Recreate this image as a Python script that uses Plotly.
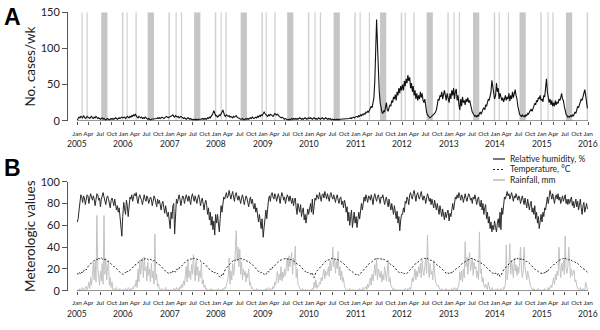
import pandas as pd
import plotly.graph_objects as go

years = list(range(2005, 2016))

# Weekly scarlet-fever cases (52 weeks per year, 2005-2015)
cases = [
    # 2005
    1,3,5,4,6,5,4,7,5,3, 4,6,5,4,3,5,6,4,3,5, 4,6,5,3,4,3,2,3,4,2, 3,2,1,2,3,2,1,2,3,2, 3,2,3,4,3,2,3,4,3,4, 5,4,
    # 2006
    4,5,3,4,6,5,4,6,5,7, 6,8,7,9,6,5,4,6,5,4, 5,3,4,3,5,4,3,2,3,2, 1,2,2,3,2,3,2,3,4,3, 4,3,4,5,4,3,4,5,6,5, 4,5,
    # 2007
    5,6,7,8,6,5,7,6,5,6, 4,5,6,5,4,3,4,3,2,3, 4,3,2,3,2,1,2,1,2,1, 2,1,2,2,1,2,3,2,3,2, 3,2,4,3,5,4,6,8,10,14, 9,7,
    # 2008
    7,5,6,8,7,9,12,15,10,7, 6,8,7,6,7,5,6,5,4,6, 5,6,7,5,4,3,3,2,2,3, 2,1,2,3,2,3,2,3,4,3, 5,4,3,4,5,4,6,5,7,6, 8,7,
    # 2009
    9,12,10,8,7,6,8,7,9,8, 7,6,8,10,9,8,9,7,6,5, 4,5,4,3,2,3,2,2,1,2, 1,2,3,2,3,2,3,2,3,2, 3,4,3,2,3,2,3,4,3,2, 3,4,
    # 2010
    3,4,3,2,3,4,3,2,3,2, 4,3,2,3,4,3,2,3,4,3, 2,3,2,3,2,1,2,1,2,1, 2,1,2,1,2,2,3,2,3,2, 3,2,3,2,3,3,4,3,4,5, 4,5,
    # 2011
    5,6,5,7,6, 8,7,9,8, 10,9,12,11, 13,12,15,18, 20,18,27,32,55,100,140,
    105,65,40,25,15,12,10,14,12,18, 25,15,13,18,22,20,28,25,33,30, 36,28,40,35,45,38,48,42,
    # 2012
    50,42,55,48, 58,52,63,55, 60,45,52,40,48, 35,42,30,38, 28,35,30,40, 32,38,28,25,30,
    18,12,8,6, 5,4,5,6, 7,9,10,12,15, 22,30,28,35, 33,40,30,38, 42,35,28,38,32,
    # 2013
    25,38,30,42, 35,45,30,40, 44,28,35,22,15, 30,20,33,25, 28,22,30,26, 32,25,28,22,18,
    12,10,8,6, 7,5,8,6, 10,12,9,14,16, 18,15,22,20, 25,30,28,35, 40,56,45,38,30,
    # 2014
    35,52,40,45, 30,38,33,28, 32,26,30,35,28, 33,30,38,27, 35,30,40,32, 38,43,35,30,20,
    12,9,7,6, 8,6,7,5, 8,7,10,9,12, 14,16,13,18, 20,24,22,28, 26,32,30,35,28,
    # 2015
    30,26,35,33, 45,58,40,32, 25,30,22,28,20, 25,20,28,22, 26,24,30,28, 32,38,30,28,20,
    12,9,7,5, 6,5,7,6, 8,6,9,12,10, 15,20,18,22, 25,30,28,33, 38,43,35,25,17,
]

# Weekly relative humidity, %
humidity = [
    63,66,74,84,88,86,81,87,85,79, 84,88,87,80,85,89,86,83,87,84, 78,86,89,88,83,85,77,84,88,90, 86,82,79,85,87,84,80,76,83,85, 82,78,84,80,74,78,72,76,69,62, 50,68,
    81,75,70,83,78,68,80,86,84,88, 82,85,89,87,90,84,80,86,88,85, 83,79,86,88,84,82,87,85,80,83, 86,84,78,82,87,85,81,77,84,80, 83,79,74,80,82,76,71,78,74,68, 72,64,
    57,72,66,78,80,52,68,84,80,86, 88,84,78,83,87,86,80,84,88,85, 82,87,84,79,86,89,85,82,87,84, 80,85,88,84,78,82,85,80,74,80, 83,78,70,76,65,72,60,68,56,64, 51,70,
    62,70,58,54,66,78,72,80,86,84, 88,90,85,87,92,89,84,88,91,86, 82,88,90,86,83,87,84,80,85,88, 84,79,83,87,85,80,77,83,86,80, 84,78,75,80,72,76,68,63,70,64, 57,66,
    49,58,70,74,66,80,84,87,82,88, 90,86,84,89,87,82,86,89,85,80, 86,90,87,83,86,80,84,88,86,82, 87,84,80,85,78,83,85,76,70,80, 77,72,79,68,73,76,65,70,62,68, 75,70,
    74,80,72,84,70,78,85,83,88,86, 84,90,87,82,88,89,85,91,88,84, 89,86,82,88,90,86,84,88,85,81, 86,88,83,80,85,86,79,82,76,83, 80,72,77,64,72,60,68,74,58,66, 72,62,
    68,58,64,72,66,76,80,74,84,86, 82,88,85,81,87,86,83,88,84,79, 86,89,85,82,86,88,84,80,86,85, 88,84,79,83,86,81,77,84,80,74, 80,76,70,78,72,66,73,62,68,55, 64,70,
    70,76,72,82,80,86,84,79,88,90, 86,84,89,92,87,82,88,90,86,84, 88,91,86,83,87,85,80,86,89,86, 82,85,79,84,80,76,83,78,74,80, 76,70,78,74,68,75,70,65,72,67, 71,74,
    64,71,68,76,80,74,82,86,84,88, 85,90,87,83,88,86,81,87,89,85, 82,86,89,87,83,85,80,86,84,88, 84,79,84,86,80,77,83,74,80,70, 76,79,66,72,62,68,57,63,54,60, 56,64,
    58,54,62,66,58,72,56,76,70,82, 86,84,88,91,87,89,84,88,90,86, 82,87,85,89,86,83,87,85,80,84, 87,83,79,85,80,76,84,78,74,80, 82,72,76,70,78,66,72,62,68,57, 64,70,
    63,72,68,76,74,82,86,80,88,92, 88,84,89,85,80,86,88,84,89,83, 86,80,84,87,82,85,88,80,84,79, 84,80,83,86,78,82,76,81,84,77, 82,74,80,84,76,70,78,81,72,76, 80,75,
]

# Weekly mean temperature, degrees C
temperature = [
    16,15,17,16,15,17,16,18,19,20, 19,21,22,23,24,24,26,27,27,28, 28,29,29,28,30,29,29,30,29,29, 28,29,28,28,27,27,26,26,25,24, 23,22,22,21,20,19,18,18,17,16, 16,15,
    15,16,17,16,18,17,18,19,19,20, 21,22,22,24,24,25,26,27,27,28, 28,28,29,29,29,30,29,29,28,29, 29,28,28,27,28,27,26,26,25,24, 24,23,22,21,20,19,19,18,17,17, 16,17,
    16,17,16,18,17,18,17,19,20,19, 21,22,22,23,24,25,26,26,27,28, 28,28,29,29,29,30,29,30,29,29, 29,28,28,28,27,27,26,25,25,24, 23,23,22,21,20,19,18,18,17,16, 17,16,
    15,16,14,13,12,13,15,14,17,18, 20,21,22,23,24,25,26,26,27,28, 27,28,29,28,29,29,29,30,29,29, 28,29,28,28,27,27,26,26,25,25, 24,23,22,21,20,19,18,17,17,16, 17,16,
    16,15,16,15,16,18,17,19,20,19, 21,22,23,23,24,25,26,27,27,28, 28,29,29,29,29,30,30,29,29,29, 28,29,28,28,27,27,26,25,25,24, 24,23,22,21,20,19,18,17,17,16, 17,16,
    16,15,17,16,14,12,15,17,18,19, 20,21,22,23,24,25,25,26,27,28, 28,28,29,29,29,30,29,29,29,29, 28,29,28,28,27,27,26,26,25,24, 24,23,22,21,20,19,18,18,17,16, 16,15,
    15,14,15,14,15,16,17,18,18,19, 20,21,22,23,24,25,26,26,27,28, 28,29,29,29,30,29,30,29,29,29, 28,29,28,28,27,27,26,25,25,24, 24,23,22,21,20,19,18,18,17,16, 16,17,
    16,15,16,15,15,16,17,18,19,20, 20,21,22,23,24,25,26,26,27,28, 28,29,29,29,29,30,29,30,29,29, 28,28,28,27,27,26,26,25,24,24, 23,22,22,21,20,19,18,17,17,16, 17,16,
    16,17,16,18,17,18,19,20,20,21, 21,22,22,23,24,25,26,26,27,28, 28,28,29,29,29,30,29,29,29,28, 28,28,27,27,26,26,25,25,24,24, 23,22,22,21,20,19,18,18,17,16, 15,16,
    16,15,14,16,15,13,14,16,18,19, 20,21,22,23,24,25,26,26,27,28, 28,29,29,29,30,29,30,29,29,29, 28,29,28,28,27,27,26,26,25,24, 24,23,22,21,20,19,19,18,17,17, 16,16,
    16,17,16,17,16,18,17,19,20,20, 21,22,23,24,24,25,26,27,27,28, 28,29,29,29,30,29,30,29,29,29, 28,29,28,28,27,27,27,26,26,25, 25,24,23,23,22,21,20,20,19,18, 18,17,
]

# Weekly rainfall, mm
rainfall = [
    0,1,0,2,1,0,3,1,0,2, 4,1,3,8,2,12,5,15,26,10, 28,8,69,20,12,5,18,9,25,6, 69,15,30,10,22,28,5,12,3,8, 1,2,0,1,3,0,1,0,2,1, 0,1,
    1,0,2,1,0,3,1,0,2,1, 3,2,5,4,10,3,20,8,28,15, 24,30,12,31,18,22,9,26,14,20, 8,25,12,18,6,52,10,15,4,6, 2,1,0,2,1,0,1,3,0,1, 0,1,
    0,1,0,0,2,1,0,3,1,2, 0,4,2,6,3,9,5,14,22,8, 27,12,18,10,24,15,33,20,9,28, 14,22,8,18,12,25,6,10,3,5, 1,2,0,1,0,1,2,0,1,0, 1,0,
    1,0,2,1,0,1,0,2,1,3, 2,5,8,12,30,6,18,10,25,14, 20,35,55,28,40,22,38,15,26,10, 20,14,18,8,16,12,20,5,8,2, 3,1,0,1,0,2,0,1,0,1, 0,0,
    0,1,0,2,0,1,3,1,0,2, 1,4,2,8,5,12,18,7,15,10, 22,9,17,12,20,14,25,30,18,32, 22,28,35,15,30,24,41,12,20,6, 4,2,1,0,2,1,0,1,0,0, 1,0,
    0,1,0,2,1,8,3,10,2,5, 4,8,6,12,9,15,20,11,18,14, 16,22,13,28,18,25,40,22,30,16, 27,20,36,14,22,10,18,8,12,4, 2,1,0,1,0,2,1,0,1,0, 0,1,
    0,0,1,0,2,0,1,0,3,1, 2,4,1,6,3,8,12,5,15,9, 18,24,14,30,10,20,16,12,18,8, 15,10,22,14,9,18,28,8,12,5, 3,1,0,2,0,1,0,0,1,0, 1,0,
    0,1,0,2,1,0,2,1,3,1, 5,12,8,15,20,10,18,13,22,16, 25,12,28,18,14,22,30,16,51,20, 12,25,15,18,10,28,14,8,6,4, 5,2,1,0,2,1,0,1,0,2, 0,1,
    0,1,0,2,0,1,3,1,2,0, 4,6,17,10,18,8,20,12,45,22, 31,15,28,35,18,24,30,14,26,20, 22,12,18,10,54,16,20,8,12,5, 3,6,2,1,8,2,0,1,3,0, 1,0,
    1,0,2,0,1,0,2,1,0,3, 2,6,42,10,18,25,43,15,28,20, 12,30,18,24,14,22,16,26,40,20, 12,18,40,22,15,10,18,12,8,5, 3,1,0,2,1,0,1,0,2,0, 1,0,
    0,1,0,2,1,0,1,3,0,2, 5,3,8,12,6,15,10,18,14,40, 22,12,25,18,28,15,50,20,16,22, 40,18,12,20,14,16,19,8,10,4, 2,1,0,3,1,0,2,1,0,8, 2,1,
]

# School holidays (Hong Kong)
lunar_new_year = ["2005-02-09", "2006-01-29", "2007-02-18", "2008-02-07", "2009-01-26", "2010-02-14",
                  "2011-02-03", "2012-01-23", "2013-02-10", "2014-01-31", "2015-02-19"]
easter = ["2005-03-27", "2006-04-16", "2007-04-08", "2008-03-23", "2009-04-12", "2010-04-04",
          "2011-04-24", "2012-04-08", "2013-03-31", "2014-04-20", "2015-04-05"]

month_names = ["Jan", "Apr", "Jul", "Oct"]
year_labels = [str(y) for y in range(2005, 2017)]

# ---- derived x positions ----
def weekly_dates(n):
    out = []
    for i in range(n):
        y = years[i // 52]
        out.append(pd.Timestamp(y, 1, 3) + pd.Timedelta(days=7 * (i % 52)))
    return out

dates_c = weekly_dates(len(cases))
dates_h = weekly_dates(len(humidity))
dates_t = weekly_dates(len(temperature))
dates_r = weekly_dates(len(rainfall))

tickvals = [f"{y}-{m:02d}-01" for y in years for m in (1, 4, 7, 10)] + ["2016-01-01"]
ticktext = [month_names[k % 4] for k in range(len(tickvals))]

FONT = "Lato"
INK = "#222222"
AX = "#555555"
HOL = "#c6c6c6"
THIN = "#cfcfcf"

fig = go.Figure()

fig.add_trace(go.Scatter(x=dates_c, y=cases, mode="lines", name="Cases",
                         line=dict(color="#111111", width=1.1), showlegend=False,
                         xaxis="x", yaxis="y"))
fig.add_trace(go.Scatter(x=dates_r, y=rainfall, mode="lines", name="Rainfall, mm",
                         line=dict(color="#c2c2c2", width=1), showlegend=False,
                         xaxis="x2", yaxis="y2"))
fig.add_trace(go.Scatter(x=dates_t, y=temperature, mode="lines", name="Temperature, °C",
                         line=dict(color="#222222", width=1, dash="2px,2px"), showlegend=False,
                         xaxis="x2", yaxis="y2"))
fig.add_trace(go.Scatter(x=dates_h, y=humidity, mode="lines", name="Relative humidity, %",
                         line=dict(color="#2a2a2a", width=1), showlegend=False,
                         xaxis="x2", yaxis="y2"))

shapes = []
# holiday bands in panel A
for y in years:
    shapes.append(dict(type="rect", xref="x", yref="y", layer="below",
                       x0=f"{y}-07-10", x1=f"{y}-08-28", y0=0, y1=150,
                       fillcolor=HOL, line=dict(width=0)))
    shapes.append(dict(type="rect", xref="x", yref="y", layer="below",
                       x0=f"{y}-12-20", x1=f"{y}-12-31", y0=0, y1=150,
                       fillcolor=THIN, line=dict(width=0)))
for d in lunar_new_year:
    t = pd.Timestamp(d)
    shapes.append(dict(type="rect", xref="x", yref="y", layer="below",
                       x0=t - pd.Timedelta(days=4), x1=t + pd.Timedelta(days=5), y0=0, y1=150,
                       fillcolor=THIN, line=dict(width=0)))
for d in easter:
    t = pd.Timestamp(d)
    shapes.append(dict(type="rect", xref="x", yref="y", layer="below",
                       x0=t - pd.Timedelta(days=11), x1=t - pd.Timedelta(days=1), y0=0, y1=150,
                       fillcolor=THIN, line=dict(width=0)))
# x baselines (Jan 2005 - Jan 2016)
for xr, yr in (("x", "y"), ("x2", "y2")):
    shapes.append(dict(type="line", xref=xr, yref=yr, x0="2005-01-01", x1="2016-01-01",
                       y0=0, y1=0, line=dict(color=AX, width=1)))

# compact legend
leg_items = [("Relative humidity, %", dict(color="#333333", width=1.3, dash="solid")),
             ("Temperature, °C", dict(color="#222222", width=1.2, dash="2px,2px")),
             ("Rainfall, mm", dict(color="#c2c2c2", width=1.6, dash="solid"))]
leg_rows = [0.5182, 0.4864, 0.4545]
annotations = []
for (txt, ln), yy in zip(leg_items, leg_rows):
    shapes.append(dict(type="line", xref="paper", yref="paper", x0=0.8142, x1=0.8372,
                       y0=yy, y1=yy, line=ln))
    annotations.append(dict(text=txt, xref="paper", yref="paper", x=0.8429, y=yy,
                            xanchor="left", yanchor="middle", showarrow=False,
                            font=dict(family=FONT, size=8.5, color=INK)))

# year labels under Jan ticks
for yl in year_labels:
    for yp in (0.5636, 0.0485):
        annotations.append(dict(text=yl, xref="x", yref="paper", x=f"{yl}-01-01", y=yp,
                                xanchor="center", yanchor="middle", showarrow=False,
                                font=dict(family=FONT, size=8.5, color=INK)))

# panel letters
annotations.append(dict(text="<b>A</b>", xref="paper", yref="paper", x=-0.127, y=0.995,
                        xanchor="left", yanchor="top", showarrow=False,
                        font=dict(family="Liberation Sans", size=23, color="#000000")))
annotations.append(dict(text="<b>B</b>", xref="paper", yref="paper", x=-0.127, y=0.537,
                        xanchor="left", yanchor="top", showarrow=False,
                        font=dict(family="Liberation Sans", size=23, color="#000000")))

xcommon = dict(type="date", range=["2004-10-22", "2016-01-15"], tickmode="array",
               tickvals=tickvals, ticktext=ticktext, ticks="outside", ticklen=3,
               tickcolor=AX, tickwidth=1, showline=False, showgrid=False, zeroline=False,
               tickangle=0, tickfont=dict(family=FONT, size=6.5, color=INK), ticklabelstandoff=3)
ycommon = dict(showline=True, linecolor=AX, linewidth=1, ticks="outside", ticklen=5,
               tickcolor=AX, showgrid=False, zeroline=False,
               tickfont=dict(family=FONT, size=11, color=INK))

fig.update_layout(
    width=600, height=330,
    margin=dict(l=68, r=10, t=0, b=0, autoexpand=False),
    paper_bgcolor="white", plot_bgcolor="white",
    showlegend=False,
    xaxis=dict(domain=[0, 1], anchor="y", **xcommon),
    xaxis2=dict(domain=[0, 1], anchor="y2", **xcommon),
    yaxis=dict(domain=[0.6342, 0.9627], anchor="x", range=[0, 150],
               tickvals=[0, 50, 100, 150],
               title=dict(text="No. cases/wk", font=dict(family=FONT, size=13.5, color=INK), standoff=1),
               **ycommon),
    yaxis2=dict(domain=[0.1191, 0.4494], anchor="x2", range=[0, 100],
                tickvals=[0, 20, 40, 60, 80, 100],
                title=dict(text="Meterologic values", font=dict(family=FONT, size=13.5, color=INK), standoff=1),
                **ycommon),
    shapes=shapes,
    annotations=annotations,
)

fig.write_html("out.html", config={"displayModeBar": False},
               post_script="document.body.style.margin='0px';")
